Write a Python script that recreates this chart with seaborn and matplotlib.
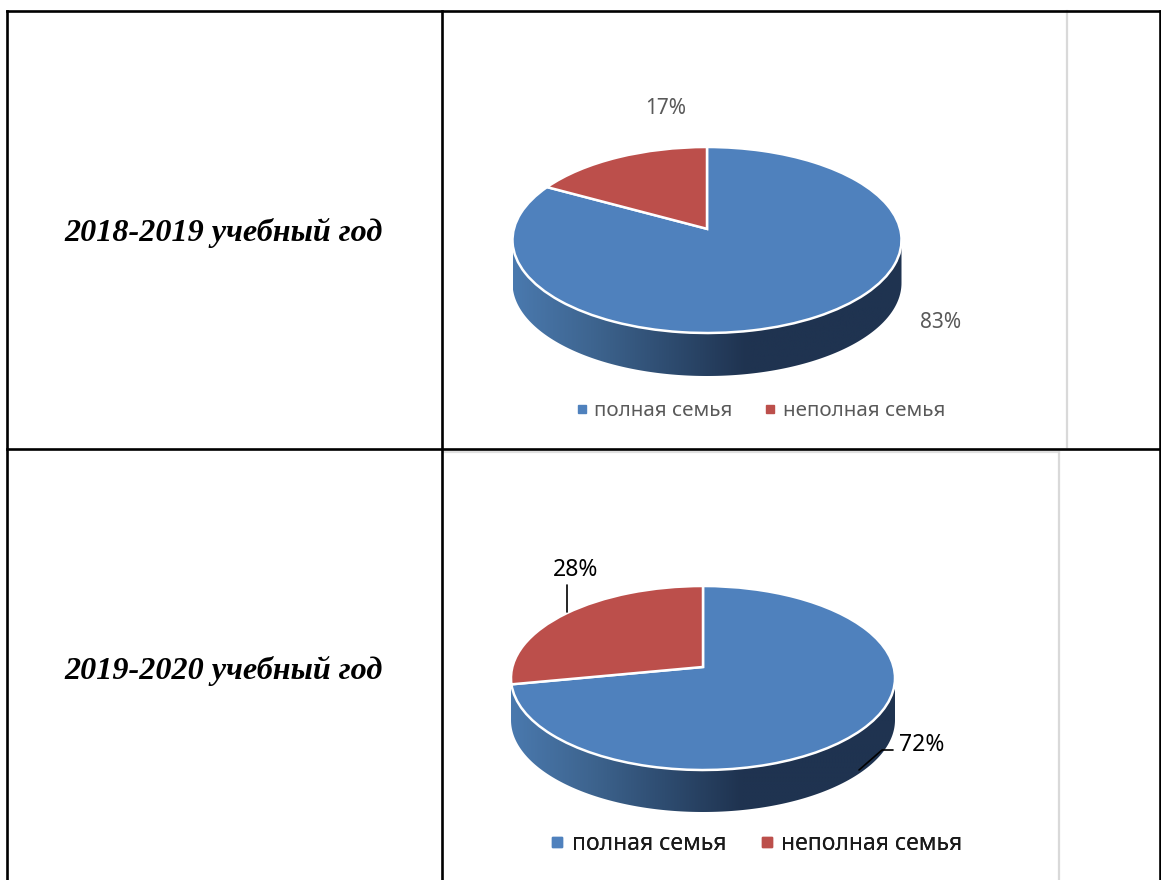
import numpy as np
import matplotlib
matplotlib.use("Agg")
import matplotlib.pyplot as plt
import matplotlib.transforms as mtransforms
from matplotlib.lines import Line2D
from matplotlib.patches import Polygon
import seaborn as sns

years = ["2018-2019 учебный год", "2019-2020 учебный год"]
categories = ["полная семья", "неполная семья"]
values_2018 = [83, 17]
values_2019 = [72, 28]
colors = ["#4F81BD", "#BC4F4B"]

W, H = 1161, 880
sns.set_theme(style="white")
fig = plt.figure(figsize=(W / 100, H / 100), dpi=100, facecolor="white")
side_cmap = sns.blend_palette(["#4A79AE", "#3E6590", "#2E4C70", "#1F3350", "#1F3350", "#1F3350"], as_cmap=True)


class Tilt(mtransforms.Transform):
    """Perspective of a tilted disc: the rim stays in place, the apex moves up."""
    input_dims = output_dims = 2

    def __init__(self, t):
        super().__init__()
        self.t = t

    def transform_non_affine(self, xy):
        xy = np.asarray(xy, dtype=float)
        d = 1 + self.t * xy[:, 1]
        return np.column_stack([xy[:, 0] * np.sqrt(1 - self.t ** 2) / d, (xy[:, 1] + self.t) / d])


def pie3d(values, cx, cy, rx, ry, depth):
    m = 1.03
    d = depth / ry
    ax = fig.add_axes([(cx - m * rx) / W, (H - cy - (d + m) * ry) / H,
                       2 * m * rx / W, (m + d + m) * ry / H])
    wedges, _ = ax.pie(values, colors=sns.color_palette(colors), startangle=90, counterclock=False,
                       radius=1, wedgeprops=dict(edgecolor="white", linewidth=1.8))
    tilt = Tilt(0.12)
    for w in wedges:
        w.set_transform(tilt + ax.transData)
    theta = np.linspace(np.pi, 2 * np.pi, 200)
    outline = np.column_stack([np.cos(theta), np.sin(theta) - d])
    outline = np.vstack([[-1, 0], outline, [1, 0]])
    clip = Polygon(outline, closed=True, transform=ax.transData, facecolor="none", edgecolor="none")
    ax.add_patch(clip)
    img = ax.imshow(np.linspace(0, 1, 256)[None, :], extent=[-1, 1, -1 - d, 0], cmap=side_cmap,
                    aspect="auto", zorder=0)
    img.set_clip_path(clip)
    ax.set_aspect("auto")
    ax.set_xlim(-m, m)
    ax.set_ylim(-m - d, m)
    ax.axis("off")
    return ax


pie3d(values_2018, 707, 240, 194.5, 93, 43)
pie3d(values_2019, 703, 678, 192, 92, 42)

ov = fig.add_axes([0, 0, 1, 1], zorder=5)
ov.set_xlim(0, W)
ov.set_ylim(H, 0)
ov.axis("off")

# table rules
for xs, ys, c, lw in [
    ((1067, 1067), (11, 447), "#D9D9D9", 1.6),
    ((444, 1059), (452, 452), "#E0E0E0", 1.6),
    ((1059, 1059), (452, 880), "#D9D9D9", 1.6),
    ((7, 1160), (11, 11), "black", 1.9),
    ((7, 7), (11, 880), "black", 1.9),
    ((442, 442), (11, 880), "black", 1.9),
    ((1160, 1160), (11, 880), "black", 1.9),
    ((7, 1160), (449, 449), "black", 1.9),
]:
    ov.plot(xs, ys, color=c, lw=lw, solid_capstyle="projecting")

serif = dict(family="Liberation Serif", weight="bold", style="italic", fontsize=23.1, color="black",
             ha="center", va="center")
ov.text(223.5, 233, years[0], **serif)
ov.text(223.5, 671, years[1], **serif)

sans = "Noto Sans"
grey = "#595959"
ov.text(665.5, 108, f"{values_2018[1]}%", family=sans, fontsize=15, color=grey, ha="center", va="center")
ov.text(940.5, 323, f"{values_2018[0]}%", family=sans, fontsize=15, color=grey, ha="center", va="center")
ov.text(575.5, 570, f"{values_2019[1]}%", family=sans, fontsize=16.5, color="black", ha="center", va="center")
ov.text(921.5, 745, f"{values_2019[0]}%", family=sans, fontsize=16.5, color="black", ha="center", va="center")
ov.plot([567, 567], [612, 585], color="black", lw=1.2)
ov.plot([859, 882, 893], [770, 750, 750], color="black", lw=1.2)


def legend(x, y, fs, color, col_gap, ms):
    handles = [Line2D([], [], ls="", marker="s", ms=ms, color=c) for c in colors]
    leg = ov.legend(handles, categories, loc="center left", bbox_to_anchor=(x, y),
                    bbox_transform=ov.transData, ncol=2, frameon=False, columnspacing=col_gap,
                    handlelength=0.55, handletextpad=0.35, borderpad=0, borderaxespad=0,
                    prop=dict(family=sans, size=fs), labelcolor=color)
    ov.add_artist(leg)


legend(576, 411, 14.8, grey, 1.55, 5.8)
legend(551, 844, 16.5, "#1a1a1a", 1.5, 6.8)

fig.savefig("out.png", dpi=100)
